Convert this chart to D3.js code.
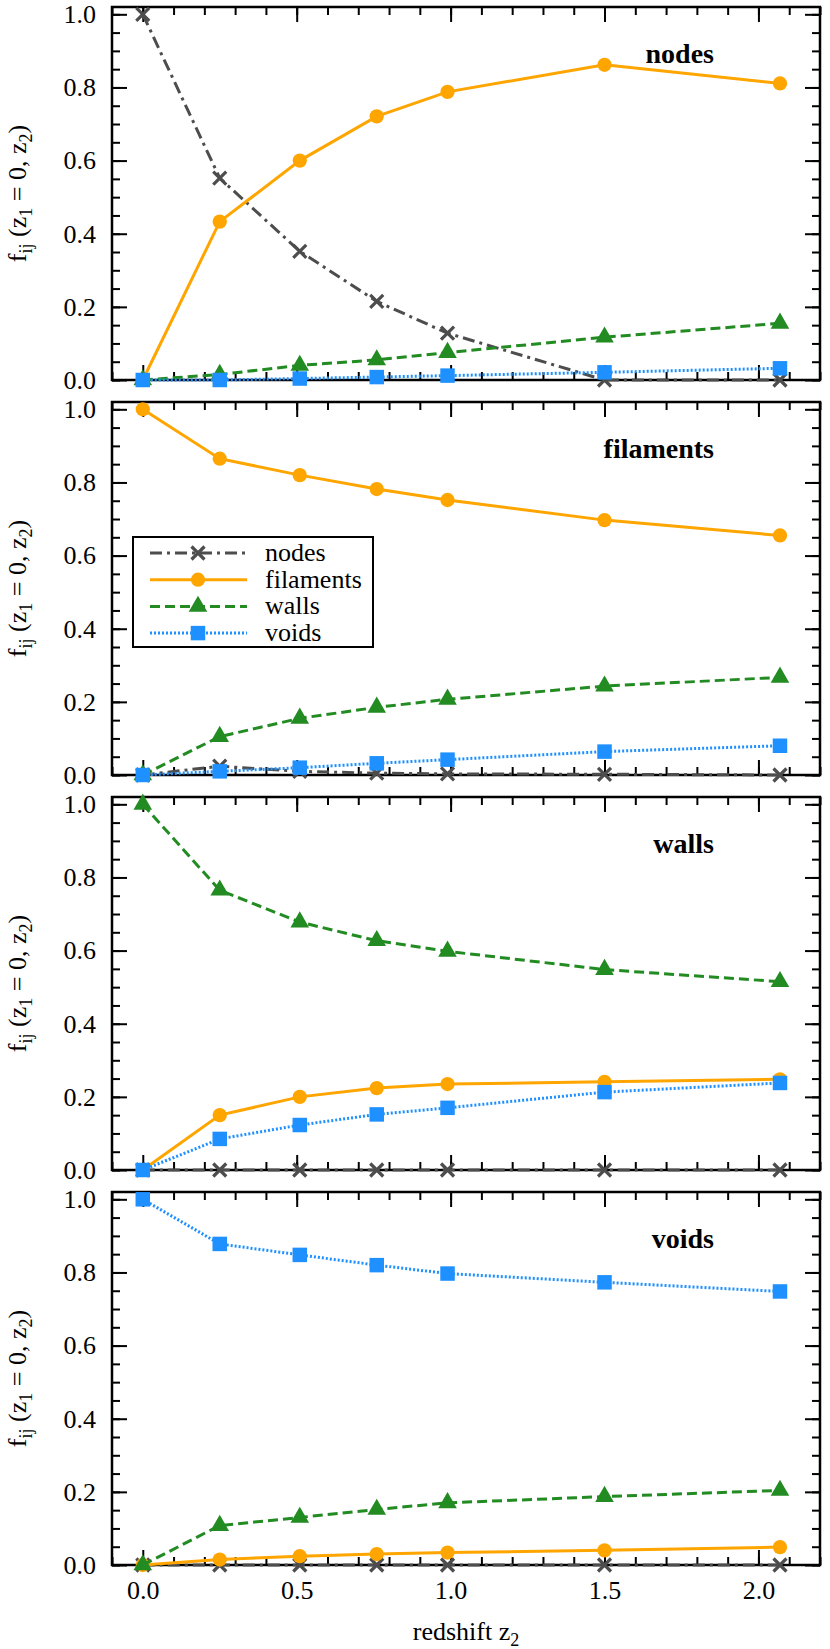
<!DOCTYPE html>
<html lang="en">
<head>
<meta charset="UTF-8">
<title>f_ij redshift</title>
<script src="https://cdn.jsdelivr.net/npm/d3@7"></script>
<style>
  body { margin: 0; background: #fff; }
</style>
</head>
<body>
<div id="chart"></div>
<script>
// redshift of each snapshot (x values)
const redshift = [0, 0.25, 0.51, 0.76, 0.99, 1.5, 2.07];

// panel titles and series names
const panelNames = ["nodes", "filaments", "walls", "voids"];
const seriesNames = ["nodes", "filaments", "walls", "voids"];

// panel "nodes"
const nodesNodes     = [1.0, 0.552, 0.352, 0.215, 0.128, 0.0, 0.0];
const nodesFilaments = [0.0, 0.433, 0.600, 0.721, 0.788, 0.862, 0.811];
const nodesWalls     = [0.0, 0.015, 0.040, 0.055, 0.075, 0.117, 0.155];
const nodesVoids     = [0.0, 0.0, 0.004, 0.008, 0.012, 0.021, 0.032];

// panel "filaments"
const filamentsNodes     = [0.0, 0.024, 0.010, 0.005, 0.003, 0.002, 0.0];
const filamentsFilaments = [1.0, 0.865, 0.820, 0.782, 0.752, 0.697, 0.655];
const filamentsWalls     = [0.0, 0.105, 0.155, 0.185, 0.207, 0.243, 0.267];
const filamentsVoids     = [0.0, 0.010, 0.020, 0.032, 0.042, 0.064, 0.080];

// panel "walls"
const wallsNodes     = [0.0, 0.0, 0.0, 0.0, 0.0, 0.0, 0.0];
const wallsFilaments = [0.0, 0.150, 0.200, 0.224, 0.235, 0.241, 0.248];
const wallsWalls     = [1.0, 0.765, 0.678, 0.627, 0.598, 0.548, 0.515];
const wallsVoids     = [0.0, 0.085, 0.123, 0.152, 0.170, 0.213, 0.238];

// panel "voids"
const voidsNodes     = [0.0, 0.0, 0.0, 0.0, 0.0, 0.0, 0.0];
const voidsFilaments = [0.0, 0.015, 0.024, 0.030, 0.034, 0.040, 0.049];
const voidsWalls     = [0.0, 0.108, 0.130, 0.152, 0.170, 0.187, 0.204];
const voidsVoids     = [1.0, 0.878, 0.848, 0.820, 0.797, 0.773, 0.748];

// axis ticks
const xTicks = [0, 0.5, 1.0, 1.5, 2.0];
const yTicks = [0, 0.2, 0.4, 0.6, 0.8, 1.0];

const panelData = [
  [nodesNodes, nodesFilaments, nodesWalls, nodesVoids],
  [filamentsNodes, filamentsFilaments, filamentsWalls, filamentsVoids],
  [wallsNodes, wallsFilaments, wallsWalls, wallsVoids],
  [voidsNodes, voidsFilaments, voidsWalls, voidsVoids]
];

// look of each series
const styles = [
  { color: "#4d4d4d", dash: "12,5,3,5", symbol: "x" },
  { color: "#ffa500", dash: null, symbol: d3.symbolCircle },
  { color: "#228b22", dash: "10,5", symbol: d3.symbolTriangle },
  { color: "#1e90ff", dash: "2,2", symbol: d3.symbolSquare }
];

const W = 830, H = 1649;
const left = 112, right = 820;
const panelTop = [7, 402, 797, 1192];
const panelH = 373;
const FONT = 26;

const svg = d3.select("#chart").append("svg")
  .attr("width", W).attr("height", H)
  .attr("font-family", "Liberation Serif");

const x = d3.scaleLinear().domain([-0.1, 2.2]).range([left, right]);
const y = d3.scaleLinear().domain([0, 1.02]).range([panelH, 0]);

const xMinor = d3.range(-0.1, 2.21, 0.1).map(v => +v.toFixed(2));
const yMinor = d3.range(0, 1.001, 0.05).map(v => +v.toFixed(2));

function markerPath(sym, size) {
  if (sym === "x") {
    const h = size;
    return `M${-h},${-h}L${h},${h}M${-h},${h}L${h},${-h}`;
  }
  return d3.symbol().type(sym).size(size)();
}

function drawMarker(sel, s) {
  if (s.symbol === "x") {
    sel.attr("d", markerPath("x", 6.5))
      .attr("fill", "none").attr("stroke", s.color).attr("stroke-width", 3.2);
  } else {
    const size = s.symbol === d3.symbolCircle ? 160 : s.symbol === d3.symbolTriangle ? 150 : 210;
    sel.attr("d", markerPath(s.symbol, size)).attr("fill", s.color);
  }
}

// inward ticks: an axis with negative tick size, no domain line
function ticks(g, axis, tx, ty) {
  const a = g.append("g").attr("transform", `translate(${tx},${ty})`).call(axis);
  a.attr("font-family", null).attr("font-size", null);
  a.select(".domain").remove();
  return a;
}

panelData.forEach((series, p) => {
  const g = svg.append("g").attr("transform", `translate(0,${panelTop[p]})`);
  const last = p === panelData.length - 1;

  // minor ticks on all sides
  ticks(g, d3.axisLeft(y).tickValues(yMinor).tickSize(-8).tickFormat(""), left, 0);
  ticks(g, d3.axisRight(y).tickValues(yMinor).tickSize(-8).tickFormat(""), right, 0);
  ticks(g, d3.axisBottom(x).tickValues(xMinor).tickSize(-8).tickFormat(""), 0, panelH);
  ticks(g, d3.axisTop(x).tickValues(xMinor).tickSize(-8).tickFormat(""), 0, 0);

  // major ticks
  ticks(g, d3.axisLeft(y).tickValues(yTicks).tickSize(-15).tickPadding(16)
    .tickFormat(d3.format(".1f")), left, 0);
  ticks(g, d3.axisRight(y).tickValues(yTicks).tickSize(-15).tickFormat(""), right, 0);
  ticks(g, d3.axisBottom(x).tickValues(xTicks).tickSize(-15).tickPadding(16)
    .tickFormat(last ? d3.format(".1f") : ""), 0, panelH);
  ticks(g, d3.axisTop(x).tickValues(xTicks).tickSize(-15).tickFormat(""), 0, 0);

  g.selectAll(".tick line").attr("stroke", "#000").attr("stroke-width", 2);
  g.selectAll(".tick text").attr("font-size", FONT).attr("fill", "#000");

  // frame
  g.append("rect").attr("x", left).attr("y", 0)
    .attr("width", right - left).attr("height", panelH)
    .attr("fill", "none").attr("stroke", "#000").attr("stroke-width", 2.5);

  // series
  series.forEach((vals, i) => {
    const s = styles[i];
    const pts = vals.map((v, k) => [redshift[k], v]);
    g.append("path").datum(pts)
      .attr("fill", "none").attr("stroke", s.color).attr("stroke-width", 3)
      .attr("stroke-dasharray", s.dash)
      .attr("d", d3.line().x(d => x(d[0])).y(d => y(d[1])));
    g.selectAll(null).data(pts).enter().append("path")
      .attr("transform", d => `translate(${x(d[0])},${y(d[1])})`)
      .call(drawMarker, s);
  });

  // panel title
  g.append("text").attr("x", 714).attr("y", 56)
    .attr("text-anchor", "end").attr("font-weight", "bold")
    .attr("font-size", 28).text(panelNames[p]);

  // y label
  const yl = g.append("text")
    .attr("transform", `translate(26,${panelH / 2}) rotate(-90)`)
    .attr("text-anchor", "middle").attr("font-size", FONT);
  yl.append("tspan").text("f");
  yl.append("tspan").attr("font-size", 18).attr("dy", 6).text("ij");
  yl.append("tspan").attr("dy", -6).text(" (z");
  yl.append("tspan").attr("font-size", 18).attr("dy", 6).text("1");
  yl.append("tspan").attr("dy", -6).text(" = 0, z");
  yl.append("tspan").attr("font-size", 18).attr("dy", 6).text("2");
  yl.append("tspan").attr("dy", -6).text(")");

  // legend in the filaments panel
  if (p === 1) {
    const lg = g.append("g").attr("transform", "translate(133,135)");
    lg.append("rect").attr("width", 240).attr("height", 110)
      .attr("fill", "#fff").attr("stroke", "#000").attr("stroke-width", 2);
    seriesNames.forEach((name, i) => {
      const s = styles[i];
      const ry = 16 + i * 26.7;
      lg.append("line").attr("x1", 17).attr("x2", 114).attr("y1", ry).attr("y2", ry)
        .attr("stroke", s.color).attr("stroke-width", 3).attr("stroke-dasharray", s.dash);
      lg.append("path").attr("transform", `translate(65,${ry})`).call(drawMarker, s);
      lg.append("text").attr("x", 132).attr("y", ry + 8)
        .attr("font-size", FONT).text(name);
    });
  }
});

// x label
const xl = svg.append("text").attr("x", (left + right) / 2).attr("y", 1640)
  .attr("text-anchor", "middle").attr("font-size", FONT);
xl.append("tspan").text("redshift z");
xl.append("tspan").attr("font-size", 18).attr("dy", 6).text("2");
</script>
</body>
</html>
